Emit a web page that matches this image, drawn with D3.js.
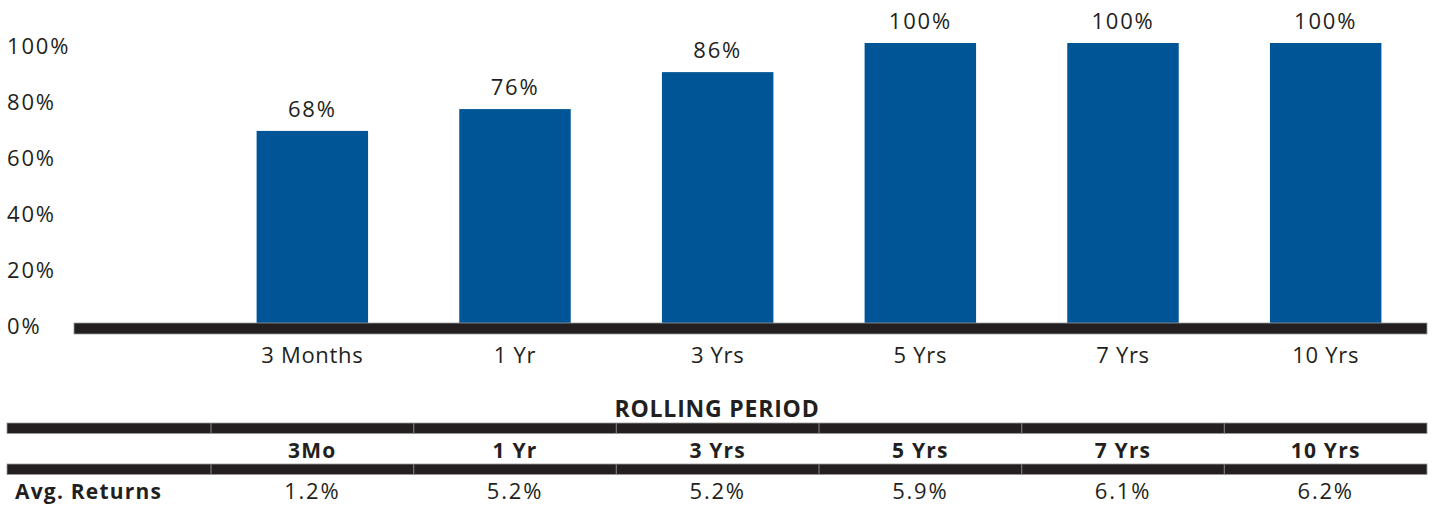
<!DOCTYPE html>
<html>
<head>
<meta charset="utf-8">
<script src="https://cdn.jsdelivr.net/npm/d3@7"></script>
<style>
  body { margin: 0; background: #fff; }
  text { font-family: "Open Sans", sans-serif; fill: #231f20; }
  .pct { font-size: 22px; letter-spacing: 1.8px; }
  .cat { font-size: 22px; letter-spacing: 0.7px; }
  .bold { font-weight: bold; letter-spacing: 1.2px; }
</style>
</head>
<body>
<div id="vis"></div>
<script>
var w = 1433,
    h = 508;

var periods = ["3 Months", "1 Yr", "3 Yrs", "5 Yrs", "7 Yrs", "10 Yrs"];
var barValues = [68.6, 76.4, 89.6, 100, 100, 100];
var barLabels = ["68%", "76%", "86%", "100%", "100%", "100%"];
var yTicks = [0, 20, 40, 60, 80, 100];

var tableTitle = "ROLLING PERIOD";
var tableHeads = ["3Mo", "1 Yr", "3 Yrs", "5 Yrs", "7 Yrs", "10 Yrs"];
var rowLabel = "Avg. Returns";
var avgReturns = ["1.2%", "5.2%", "5.2%", "5.9%", "6.1%", "6.2%"];

var ink = "#231f20",
    blue = "#005596";

var svg = d3.select("#vis").append("svg")
    .attr("width", w)
    .attr("height", h);

var x = d3.scaleBand()
    .domain(periods)
    .range([211, 1427])
    .paddingInner(0.45)
    .paddingOuter(0.225);

var y = d3.scaleLinear()
    .domain([0, 100])
    .range([323, 43]);

var mid = function(d, i){ return x(periods[i]) + x.bandwidth()/2; };

// y tick labels, text only
svg.selectAll("text.ytick")
    .data(yTicks)
    .enter().append("text")
    .attr("class", "ytick pct")
    .attr("x", 7)
    .attr("y", function(d){ return y(d) + 11; })
    .text(function(d){ return d + "%"; });

// bars
svg.selectAll("rect.bar")
    .data(barValues)
    .enter().append("rect")
    .attr("class", "bar")
    .attr("x", function(d, i){ return x(periods[i]); })
    .attr("y", function(d){ return y(d); })
    .attr("width", x.bandwidth())
    .attr("height", function(d){ return y(0) - y(d); })
    .style("fill", blue);

// value labels
svg.selectAll("text.val")
    .data(barValues)
    .enter().append("text")
    .attr("class", "val pct")
    .attr("x", mid)
    .attr("y", function(d){ return y(d) - 14; })
    .attr("text-anchor", "middle")
    .text(function(d, i){ return barLabels[i]; });

// baseline
svg.append("rect")
    .attr("x", 74)
    .attr("y", y(0))
    .attr("width", 1427 - 74)
    .attr("height", 11)
    .style("fill", ink)
    .style("stroke", "#9a9a9a")
    .style("stroke-width", 0.8);

// category labels
svg.selectAll("text.cat")
    .data(periods)
    .enter().append("text")
    .attr("class", "cat")
    .attr("x", mid)
    .attr("y", 363)
    .attr("text-anchor", "middle")
    .text(function(d){ return d; });

// table
var colEdges = periods.map(function(d){ return x(d) - x.step()*x.paddingInner()/2; });

svg.append("text")
    .attr("class", "bold")
    .attr("x", (7 + 1427)/2)
    .attr("y", 417)
    .attr("text-anchor", "middle")
    .style("font-size", "23px")
    .style("letter-spacing", "0.8px")
    .text(tableTitle);

[423, 464].forEach(function(ty){
    svg.append("rect")
        .attr("x", 7)
        .attr("y", ty)
        .attr("width", 1427 - 7)
        .attr("height", 10.5)
        .style("fill", ink)
        .style("stroke", "#9a9a9a")
        .style("stroke-width", 0.8);
    svg.selectAll(null)
        .data(colEdges)
        .enter().append("line")
        .attr("x1", function(d){ return d; })
        .attr("x2", function(d){ return d; })
        .attr("y1", ty)
        .attr("y2", ty + 10.5)
        .style("stroke", "#777")
        .style("stroke-width", 1.2);
});

svg.selectAll("text.head")
    .data(tableHeads)
    .enter().append("text")
    .attr("class", "head bold")
    .attr("x", mid)
    .attr("y", 458)
    .attr("text-anchor", "middle")
    .style("font-size", "21px")
    .text(function(d){ return d; });

svg.append("text")
    .attr("class", "bold")
    .attr("x", 15)
    .attr("y", 499)
    .style("font-size", "21px")
    .text(rowLabel);

svg.selectAll("text.ret")
    .data(avgReturns)
    .enter().append("text")
    .attr("class", "ret pct")
    .attr("x", mid)
    .attr("y", 499)
    .attr("text-anchor", "middle")
    .text(function(d){ return d; });
</script>
</body>
</html>
